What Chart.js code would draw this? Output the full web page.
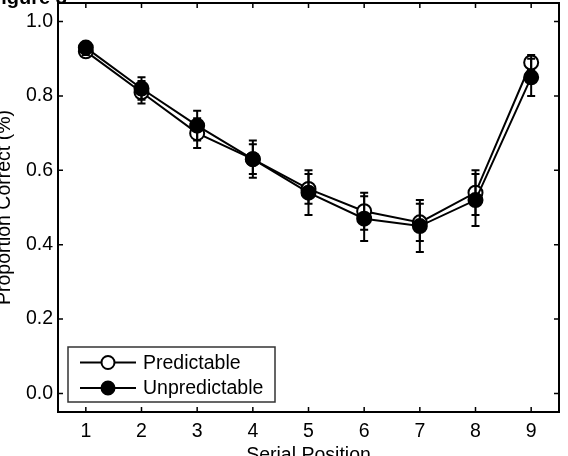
<!DOCTYPE html>
<html><head><meta charset="utf-8">
<script src="https://cdn.jsdelivr.net/npm/chart.js@4"></script>
<style>html,body{margin:0;padding:0;background:#fff;overflow:hidden}#wrap{width:568px;height:456px;overflow:hidden}#c{display:block;margin-top:-6px}</style>
</head><body><div id="wrap"><canvas id="c" width="568" height="462"></canvas></div>
<script>
const positions = [1, 2, 3, 4, 5, 6, 7, 8, 9];
const predictable = [0.92, 0.81, 0.70, 0.63, 0.55, 0.49, 0.46, 0.54, 0.89];
const predictableErr = [0.01, 0.03, 0.04, 0.04, 0.04, 0.05, 0.05, 0.06, 0.02];
const unpredictable = [0.93, 0.82, 0.72, 0.63, 0.54, 0.47, 0.45, 0.52, 0.85];
const unpredictableErr = [0.01, 0.03, 0.04, 0.05, 0.06, 0.06, 0.07, 0.07, 0.05];
const yTicks = [0.0, 0.2, 0.4, 0.6, 0.8, 1.0];
const seriesNames = ['Predictable', 'Unpredictable'];
const figureTitle = 'Figure 3';
const xTitle = 'Serial Position';
const yTitle = 'Proportion Correct (%)';

const FONT = "'Liberation Sans', Arial, Helvetica, sans-serif";
const SHIFT = 6;
const errs = [predictableErr, unpredictableErr];

const framePlugin = {
  id: 'frame',
  afterDatasetsDraw(chart) {
    const ctx = chart.ctx, xs = chart.scales.x, ys = chart.scales.y;
    ctx.save();
    ctx.strokeStyle = '#000';
    ctx.lineWidth = 2;
    chart.data.datasets.forEach((ds, di) => {
      const e = errs[di];
      ds.data.forEach((p, i) => {
        const x = xs.getPixelForValue(p.x);
        const y1 = ys.getPixelForValue(p.y + e[i]);
        const y2 = ys.getPixelForValue(p.y - e[i]);
        ctx.beginPath();
        ctx.moveTo(x, y1); ctx.lineTo(x, y2);
        ctx.moveTo(x - 4, y1); ctx.lineTo(x + 4, y1);
        ctx.moveTo(x - 4, y2); ctx.lineTo(x + 4, y2);
        ctx.stroke();
      });
    });
    ctx.restore();
  },
  afterDraw(chart) {
    const ctx = chart.ctx, a = chart.chartArea, xs = chart.scales.x, ys = chart.scales.y;
    ctx.save();
    ctx.strokeStyle = '#000';
    ctx.lineWidth = 2;
    ctx.strokeRect(a.left, a.top, a.right - a.left, a.bottom - a.top);
    ctx.lineWidth = 1.5;
    ctx.beginPath();
    xs.ticks.forEach(t => {
      const x = xs.getPixelForValue(t.value);
      ctx.moveTo(x, a.bottom); ctx.lineTo(x, a.bottom - 5);
      ctx.moveTo(x, a.top); ctx.lineTo(x, a.top + 5);
    });
    ys.ticks.forEach(t => {
      const y = ys.getPixelForValue(t.value);
      ctx.moveTo(a.left, y); ctx.lineTo(a.left + 5, y);
      ctx.moveTo(a.right, y); ctx.lineTo(a.right - 5, y);
    });
    ctx.stroke();
    const lx = a.left + 10, ly = a.bottom - 65, lw = 207, lh = 55;
    ctx.fillStyle = '#fff';
    ctx.fillRect(lx, ly, lw, lh);
    ctx.strokeStyle = '#333';
    ctx.lineWidth = 1.5;
    ctx.strokeRect(lx, ly, lw, lh);
    chart.data.datasets.forEach((ds, di) => {
      const cy = ly + 15.5 + di * 25.5;
      ctx.strokeStyle = '#000';
      ctx.lineWidth = 2;
      ctx.beginPath();
      ctx.moveTo(lx + 12, cy); ctx.lineTo(lx + 68, cy);
      ctx.stroke();
      ctx.beginPath();
      ctx.arc(lx + 40, cy, 6.5, 0, Math.PI * 2);
      ctx.fillStyle = ds.pointBackgroundColor;
      ctx.fill();
      ctx.stroke();
      ctx.fillStyle = '#000';
      ctx.font = '19.5px ' + FONT;
      ctx.textAlign = 'left';
      ctx.textBaseline = 'middle';
      ctx.fillText(ds.label, lx + 75, cy + 1);
    });
    ctx.fillStyle = '#000';
    ctx.font = 'bold 20px ' + FONT;
    ctx.textAlign = 'left';
    ctx.textBaseline = 'alphabetic';
    ctx.fillText(figureTitle, -11, 4 + SHIFT);
    ctx.font = '19.5px ' + FONT;
    ctx.textAlign = 'center';
    ctx.fillText(xTitle, (a.left + a.right) / 2, 461 + SHIFT);
    ctx.translate(10, (a.top + a.bottom) / 2);
    ctx.rotate(-Math.PI / 2);
    ctx.fillText(yTitle, 0, 0);
    ctx.restore();
  }
};

const mk = (vals) => positions.map((x, i) => ({ x: x, y: vals[i] }));

new Chart(document.getElementById('c'), {
  type: 'line',
  data: {
    datasets: [
      { label: seriesNames[0], data: mk(predictable), borderColor: '#000', borderWidth: 2,
        pointRadius: 7, pointBackgroundColor: '#fff', pointBorderColor: '#000', pointBorderWidth: 2,
        order: 2, fill: false, tension: 0 },
      { label: seriesNames[1], data: mk(unpredictable), borderColor: '#000', borderWidth: 2,
        pointRadius: 7, pointBackgroundColor: '#000', pointBorderColor: '#000', pointBorderWidth: 2,
        order: 1, fill: false, tension: 0 }
    ]
  },
  options: {
    responsive: false,
    animation: false,
    devicePixelRatio: 1,
    layout: { padding: { left: 0, right: 8, top: -4, bottom: 0 } },
    plugins: { legend: { display: false }, tooltip: { enabled: false } },
    scales: {
      x: {
        type: 'linear', min: 0.5, max: 9.5,
        grid: { display: false, drawTicks: false },
        border: { display: false },
        ticks: { color: '#000', padding: 8, font: { size: 19.5, family: FONT } },
        afterBuildTicks: s => { s.ticks = positions.map(v => ({ value: v })); },
        afterFit: s => { s.height = 44; s.paddingLeft = 0; s.paddingRight = 0; }
      },
      y: {
        type: 'linear', min: -0.05, max: 1.05,
        grid: { display: false, drawTicks: false },
        border: { display: false },
        ticks: { color: '#000', padding: 5, font: { size: 19.5, family: FONT },
          callback: v => Number(v).toFixed(1) },
        afterBuildTicks: s => { s.ticks = yTicks.map(v => ({ value: v })); },
        afterFit: s => { s.width = 58; s.paddingTop = 0; s.paddingBottom = 0; }
      }
    }
  },
  plugins: [framePlugin]
});
</script>
</body></html>
